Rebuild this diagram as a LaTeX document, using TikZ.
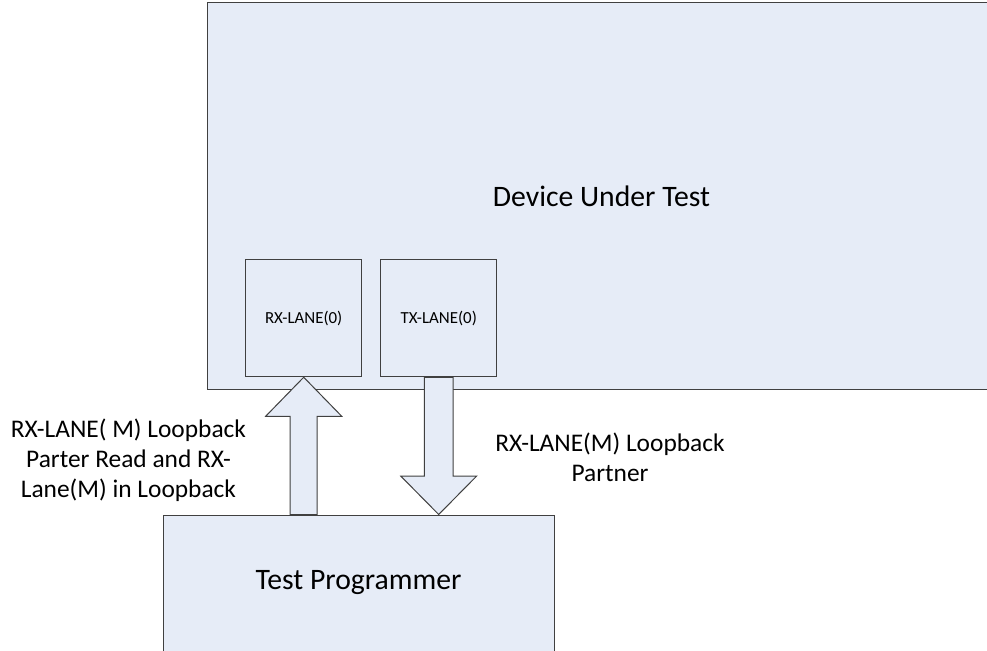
\documentclass[tikz,border=0pt]{standalone}
\usepackage{fontspec}
\setmainfont{Carlito}
\usetikzlibrary{positioning, calc}
\definecolor{boxfill}{RGB}{230, 236, 247}
\definecolor{boxline}{RGB}{64, 64, 64}
\tikzset{
  block/.style={rectangle, fill=boxfill, draw=boxline, line width=1pt, text centered, inner sep=0pt},
  devblock/.style={block, minimum width=789pt, minimum height=386pt, font=\fontsize{29.7}{36}\selectfont},
  laneblock/.style={block, minimum width=116pt, minimum height=117.5pt, font=\fontsize{16.9}{20}\selectfont},
  progblock/.style={block, minimum width=391pt, minimum height=136pt, font=\fontsize{29.7}{36}\selectfont},
  labeltext/.style={align=center, inner sep=0pt, font=\fontsize{25.4}{30}\selectfont},
  blockarr/.style={fill=boxfill, draw=boxline, line width=1pt, line join=miter}
}
\begin{document}
\begin{tikzpicture}[x=1pt, y=-1pt, node distance=18pt]

  \clip (0,0) rectangle (987,650);

  \node[devblock]  (dut)    at (601.5,196)   {Device Under Test};
  \node[laneblock] (rxlane) at (303.7,318)   {RX-LANE(0)};
  \node[laneblock, right=of rxlane] (txlane) {TX-LANE(0)};

  \node[progblock] (prog)   at (358.5,583)   {Test Programmer};

  % up arrow: programmer -> rx lane
  \draw[blockarr] (rxlane.south) -- ++(38,39) -- ++(-24.5,0)
    -- ($(rxlane.south |- prog.north)+(13.5,0)$)
    -- ($(rxlane.south |- prog.north)+(-13.5,0)$)
    -- ($(rxlane.south)+(-13.5,39)$) -- ++(-24.5,0) -- cycle;

  % down arrow: tx lane -> programmer
  \draw[blockarr] ($(txlane.south)+(-14.3,0)$) -- ($(txlane.south)+(14.3,0)$)
    -- ($(txlane.south |- prog.north)+(14.3,-38.5)$) -- ++(23.7,0)
    -- (txlane.south |- prog.north)
    -- ($(txlane.south |- prog.north)+(-38,-38.5)$) -- ++(23.7,0) -- cycle;

  \node[labeltext] (rxlabel) at (128.5,460)
    {RX-LANE( M) Loopback\\Parter Read and RX-\\Lane(M) in Loopback};
  \node[labeltext] (txlabel) at (610,457)
    {RX-LANE(M) Loopback\\Partner};

\end{tikzpicture}
\end{document}
